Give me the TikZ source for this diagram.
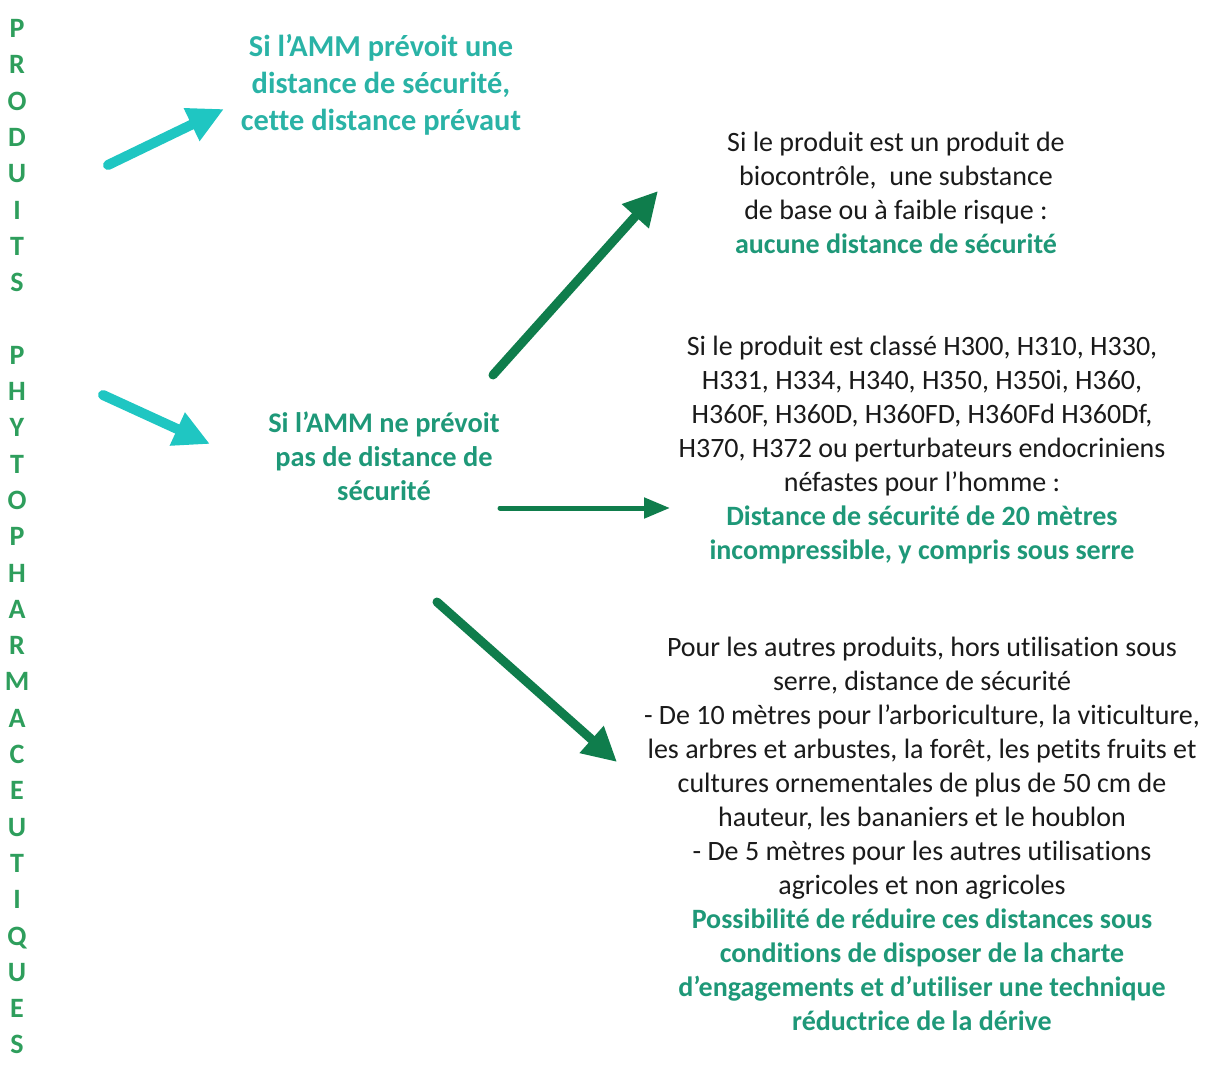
\documentclass[tikz,border=0pt]{standalone}
\usepackage{fontspec}
\setmainfont[Ligatures=NoCommon]{Carlito}
\usetikzlibrary{arrows.meta,positioning}
\definecolor{LetterGreen}{HTML}{2E9E5C}
\definecolor{TopTeal}{HTML}{2AB3A6}
\definecolor{TextGreen}{HTML}{1E9878}
\definecolor{ArrowCyan}{HTML}{1FC6C2}
\definecolor{ArrowGreen}{HTML}{0F7D4C}
\definecolor{Body}{HTML}{1A1A1A}
\newcommand{\hl}[1]{\textcolor{TextGreen}{\bfseries #1}}
\tikzset{txt/.style={align=center,inner sep=0pt,text=Body,font=\fontsize{14}{17}\selectfont},cyanflow/.style={-{Triangle[length=18pt,width=17pt]},line width=5pt,line cap=round,draw=ArrowCyan},greenflow/.style={-{Triangle[length=17pt,width=17pt]},line width=4.5pt,line cap=round,draw=ArrowGreen}}

\begin{document}
\begin{tikzpicture}[x=0.5pt,y=-0.5pt]
\useasboundingbox (0,0) rectangle (1207,1066);
\node[align=center,inner sep=0pt,anchor=north,text=LetterGreen,font=\bfseries\fontsize{14}{18.15}\selectfont] (produits) at (17,19) {P\\R\\O\\D\\U\\I\\T\\S\\[18.15pt]P\\H\\Y\\T\\O\\P\\H\\A\\R\\M\\A\\C\\E\\U\\T\\I\\Q\\U\\E\\S};
\node[txt,text=TopTeal,font=\bfseries\fontsize{15.2}{18.5}\selectfont] (avecdist) at (381,85) {Si l’AMM prévoit une\\distance de sécurité,\\cette distance prévaut};
\node[txt,text=TextGreen,font=\bfseries\fontsize{14.2}{17}\selectfont] (sansdist) at (384,456) {Si l’AMM ne prévoit\\pas de distance de\\sécurité};
\node[txt] (biocontrole) at (896,193) {Si le produit est un produit de\\biocontrôle,\ \ une substance\\de base ou à faible risque :\\\hl{aucune distance de sécurité}};
\node[txt] (cmr) at (922,450) {Si le produit est classé H300, H310, H330,\\H331, H334, H340, H350, H350i, H360,\\H360F, H360D, H360FD, H360Fd H360Df,\\H370, H372 ou perturbateurs endocriniens\\néfastes pour l’homme :\\\hl{Distance de sécurité de 20 mètres}\\\hl{incompressible, y compris sous serre}};
\node[txt] (autres) at (922,834) {Pour les autres produits, hors utilisation sous\\serre, distance de sécurité\\- De 10 mètres pour l’arboriculture, la viticulture,\\les arbres et arbustes, la forêt, les petits fruits et\\cultures ornementales de plus de 50 cm de\\hauteur, les bananiers et le houblon\\- De 5 mètres pour les autres utilisations\\agricoles et non agricoles\\\hl{Possibilité de réduire ces distances sous}\\\hl{conditions de disposer de la charte}\\\hl{d’engagements et d’utiliser une technique}\\\hl{réductrice de la dérive}};
% arrow ends
\coordinate (a1) at (108,165);
\coordinate (b1) at (224,109);
\coordinate (a2) at (103,395);
\coordinate (b2) at (210,444);
\coordinate (a3) at (493,375);
\coordinate (b3) at (658,191);
\coordinate (a4) at (500,508);
\coordinate (b4) at (670,508);
\coordinate (a5) at (437,602);
\coordinate (b5) at (617,762);
\draw[cyanflow] (a1) -- (b1);
\draw[cyanflow] (a2) -- (b2);
\draw[greenflow] (a3) -- (b3);
\draw[greenflow,line width=2.5pt,-{Triangle[length=13pt,width=10pt]}] (a4) -- (b4);
\draw[greenflow] (a5) -- (b5);
\end{tikzpicture}
\end{document}
